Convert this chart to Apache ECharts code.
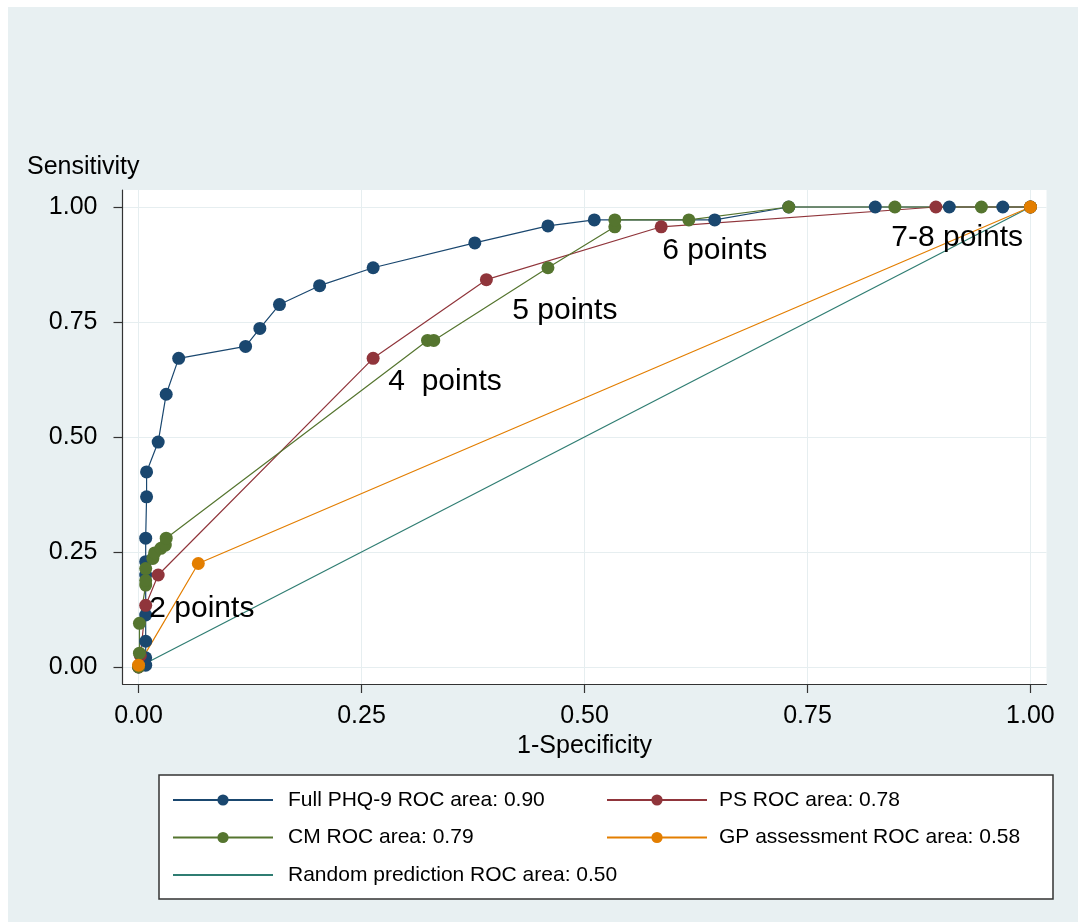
<!DOCTYPE html>
<html>
<head>
<meta charset="utf-8">
<script src="https://cdn.jsdelivr.net/npm/echarts@6/dist/echarts.min.js"></script>
<style>
  html, body { margin: 0; background: #fff; }
  #chart {
    width: 1078px; height: 923px;
    background-image: linear-gradient(#e8f0f2, #e8f0f2);
    background-position: 8px 7px;
    background-size: 1070px 915px;
    background-repeat: no-repeat;
  }
</style>
</head>
<body>
<div id="chart"></div>
<script>
// ROC points [1-specificity, sensitivity]
const phqPoints = [
  [0, 0], [0.008, 0.004], [0.008, 0.02], [0.008, 0.056], [0.008, 0.113],
  [0.008, 0.2], [0.008, 0.229], [0.008, 0.28], [0.009, 0.37], [0.009, 0.424],
  [0.022, 0.489], [0.031, 0.593], [0.045, 0.671], [0.120, 0.697], [0.136, 0.736],
  [0.158, 0.788], [0.203, 0.829], [0.263, 0.868], [0.377, 0.922], [0.459, 0.959],
  [0.511, 0.972], [0.646, 0.972], [0.729, 1.0], [0.826, 1.0], [0.909, 1.0],
  [0.969, 1.0], [1.0, 1.0]
]
const psPoints = [
  [0, 0], [0.002, 0.025], [0.008, 0.134], [0.022, 0.2], [0.263, 0.671],
  [0.390, 0.842], [0.586, 0.957], [0.894, 1.0], [1.0, 1.0]
]
const cmPoints = [
  [0, 0], [0.001, 0.03], [0.001, 0.095], [0.008, 0.178], [0.008, 0.188],
  [0.008, 0.214], [0.016, 0.236], [0.018, 0.248], [0.025, 0.258], [0.030, 0.265],
  [0.031, 0.28], [0.324, 0.71], [0.331, 0.71], [0.459, 0.868], [0.534, 0.957],
  [0.534, 0.972], [0.617, 0.972], [0.729, 1.0], [0.848, 1.0], [0.945, 1.0], [1.0, 1.0]
]
const gpPoints = [[0, 0.004], [0.067, 0.225], [1.0, 1.0]]
const randomPoints = [[0, 0], [1, 1]]

const seriesNames = [
  'Full PHQ-9 ROC area: 0.90',
  'PS ROC area: 0.78',
  'CM ROC area: 0.79',
  'GP assessment ROC area: 0.58',
  'Random prediction ROC area: 0.50'
]
const seriesColors = ['#1a476f', '#90353b', '#55752f', '#e37e00', '#2f7d72']

const tickValues = [0, 0.25, 0.5, 0.75, 1]

// cut-off labels [x, y, text]
const annotations = [
  [0.012, 0.126, '2 points'],
  [0.280, 0.621, '4  points'],
  [0.419, 0.775, '5 points'],
  [0.587, 0.905, '6 points'],
  [0.844, 0.933, '7-8 points']
]

const FONT = '"Liberation Sans", Arial, sans-serif'

const chart = echarts.init(document.getElementById('chart'))

function rocSeries(name, color, points, withSymbol) {
  return {
    name: name,
    type: 'line',
    data: points,
    symbol: withSymbol ? 'circle' : 'none',
    symbolSize: 13,
    showAllSymbol: true,
    lineStyle: { color: color, width: 1.2 },
    itemStyle: { color: color },
    emphasis: { disabled: true }
  }
}

function axisCommon() {
  return {
    type: 'value',
    axisLine: { show: true, onZero: false, lineStyle: { color: '#333', width: 1.2 } },
    axisTick: { show: true, length: 9, customValues: tickValues, lineStyle: { color: '#333', width: 1.2 } },
    splitLine: { show: true, lineStyle: { color: '#e6eef0', width: 1 } },
    axisLabel: {
      customValues: tickValues,
      formatter: v => v.toFixed(2),
      color: '#000',
      fontSize: 25,
      fontFamily: FONT
    }
  }
}

const xAxis = Object.assign(axisCommon(), {
  min: -0.018,
  max: 1.018,
  name: '1-Specificity',
  nameLocation: 'middle',
  nameGap: 46,
  nameTextStyle: { color: '#000', fontSize: 25, fontFamily: FONT }
})
xAxis.axisLabel.margin = 20

const yAxis = Object.assign(axisCommon(), {
  min: -0.037,
  max: 1.037
})
yAxis.axisLabel.margin = 25

const legendCommon = {
  orient: 'vertical',
  top: 784.5,
  itemWidth: 100,
  itemHeight: 14,
  itemGap: 16.5,
  selectedMode: false,
  textStyle: { color: '#000', fontSize: 21, lineHeight: 21, fontFamily: FONT }
}

chart.setOption({
  backgroundColor: 'transparent',
  animation: false,
  grid: {
    left: 122.5,
    right: 1078 - 1046.5,
    top: 190,
    bottom: 923 - 684,
    show: true,
    backgroundColor: '#fff',
    borderWidth: 0
  },
  xAxis: xAxis,
  yAxis: yAxis,
  legend: [
    Object.assign({}, legendCommon, {
      left: 167,
      data: [
        seriesNames[0],
        seriesNames[2],
        { name: seriesNames[4], itemStyle: { opacity: 0 } }
      ],
      textStyle: Object.assign({}, legendCommon.textStyle, { padding: [0, 0, 0, 10] })
    }),
    Object.assign({}, legendCommon, {
      left: 601,
      data: [seriesNames[1], seriesNames[3]],
      textStyle: Object.assign({}, legendCommon.textStyle, { padding: [0, 0, 0, 7] })
    })
  ],
  graphic: [
    {
      type: 'rect',
      z: 1,
      shape: { x: 159, y: 775, width: 894, height: 124 },
      style: { fill: '#fff', stroke: '#333', lineWidth: 1.5 }
    },
    {
      type: 'text',
      x: 27,
      y: 167,
      style: {
        text: 'Sensitivity',
        fill: '#000',
        font: '25px ' + FONT,
        verticalAlign: 'middle'
      }
    }
  ],
  series: [
    rocSeries(seriesNames[0], seriesColors[0], phqPoints, true),
    rocSeries(seriesNames[1], seriesColors[1], psPoints, true),
    rocSeries(seriesNames[2], seriesColors[2], cmPoints, true),
    rocSeries(seriesNames[4], seriesColors[4], randomPoints, false),
    rocSeries(seriesNames[3], seriesColors[3], gpPoints, true),
    {
      type: 'scatter',
      silent: true,
      symbolSize: 0.1,
      itemStyle: { color: 'transparent', opacity: 1 },
      data: annotations.map(a => ({ value: [a[0], a[1]], name: a[2] })),
      label: {
        show: true,
        position: 'right',
        distance: 0,
        formatter: p => p.name,
        color: '#000',
        opacity: 1,
        fontSize: 30,
        fontFamily: FONT
      },
      z: 5
    }
  ]
})
</script>
</body>
</html>
